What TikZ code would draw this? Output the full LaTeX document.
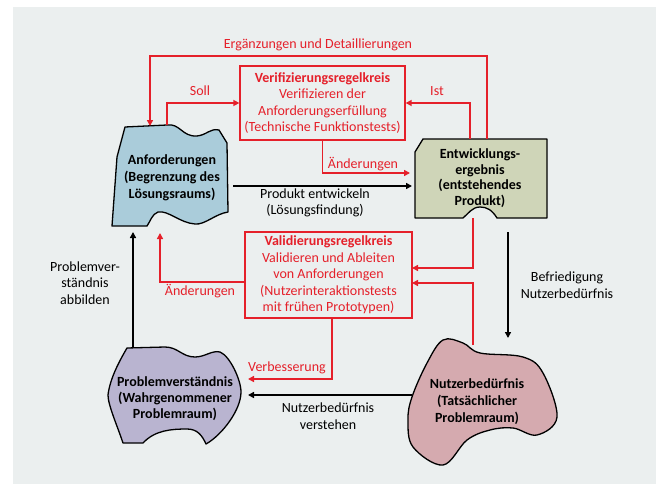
\documentclass[tikz,border=0pt]{standalone}
\usepackage{fontspec}
\setmainfont{Carlito}
\usetikzlibrary{arrows.meta}
\definecolor{bg}{HTML}{EBEFEF}
\definecolor{rd}{HTML}{E5202A}
\definecolor{anfc}{HTML}{AACCDA}
\definecolor{entc}{HTML}{CFD5B8}
\definecolor{proc}{HTML}{B9B4D0}
\definecolor{nutc}{HTML}{D5AAAF}
\tikzset{
  rline/.style={draw=rd, line width=1.8pt, -{Triangle[length=6pt,width=6pt]}},
  bline/.style={draw=black, line width=1.8pt, -{Triangle[length=6pt,width=6pt]}},
  shapeline/.style={draw=black, line width=1.3pt, line join=round},
  lbl/.style={font=\fontsize{14}{16.5}\selectfont, align=center, inner sep=0pt},
  rlbl/.style={lbl, text=rd},
  boxstyle/.style={draw=rd, line width=1.3pt, fill=bg, inner sep=0pt, text=rd, align=center, font=\fontsize{14}{16.5}\selectfont},
  stext/.style={align=center, inner sep=0pt, font=\fontsize{14}{17}\selectfont\bfseries},
}
\begin{document}
\begin{tikzpicture}[x=1pt,y=-1pt]
\useasboundingbox (0,0) rectangle (660,484);
\fill[bg] (13,7) rectangle (656,484);

% ---- shapes ----
\draw[shapeline, fill=anfc] (125,127) -- (167,125)
  .. controls (180,123) and (182,137) .. (197,136)
  .. controls (207,135) and (210,128) .. (219,130)
  -- (227,143) -- (228,212)
  .. controls (215,214) and (205,225) .. (195,224)
  .. controls (180,223) and (168,210) .. (158,212)
  .. controls (152,214) and (150,222) .. (147,226)
  -- (112,226) -- (117,157) -- cycle;

\draw[shapeline, fill=entc] (423,139) -- (547,139) -- (547,218) -- (497,218)
  .. controls (492,210) and (487,207) .. (480,207)
  .. controls (472,207) and (468,214) .. (463,218)
  -- (415,218) -- (415,152) -- cycle;

\draw[shapeline, fill=proc] (127,348) -- (165,347)
  .. controls (178,347) and (182,357) .. (195,357)
  .. controls (205,357) and (212,350) .. (220,352)
  .. controls (230,356) and (241,380) .. (241,392)
  .. controls (241,410) and (222,435) .. (206,444)
  .. controls (202,435) and (197,429) .. (187,429)
  .. controls (172,429) and (155,430) .. (143,443)
  -- (123,443)
  .. controls (117,425) and (108,405) .. (108,395)
  .. controls (110,378) and (120,360) .. (127,348) -- cycle;

\draw[shapeline, fill=nutc] plot[smooth cycle, tension=0.6] coordinates {
  (408,420) (412,397) (427,363) (443,340) (463,343) (480,353) (523,357)
  (543,373) (557,417) (537,435) (513,428) (490,430) (467,440) (443,465) (413,447)};

% ---- shape texts ----
\node[stext] (anf) at (172,178) {Anforderungen\\(Begrenzung des\\Lösungsraums)};
\node[stext, font=\fontsize{14}{15.5}\selectfont\bfseries] (ent) at (480,178) {Entwicklungs-\\ergebnis\\(entstehendes\\Produkt)};
\node[stext, font=\fontsize{14}{16}\selectfont\bfseries] (pro) at (175,399) {Problemverständnis\\(Wahrgenommener\\Problemraum)};
\node[stext] (nut) at (477,402) {Nutzerbedürfnis\\(Tatsächlicher\\Problemraum)};

% ---- boxes ----
\node[boxstyle, minimum width=165pt, minimum height=74pt] (verif) at (322.5,103)
  {\textbf{Verifizierungsregelkreis}\\Verifizieren der\\Anforderungserfüllung\\(Technische Funktionstests)};
\node[boxstyle, minimum width=167pt, minimum height=86pt] (valid) at (328.5,275)
  {\textbf{Validierungsregelkreis}\\Validieren und Ableiten\\von Anforderungen\\(Nutzerinteraktionstests\\mit frühen Prototypen)};

% ---- coordinates ----
\coordinate (anfTopL) at (150,126);
\coordinate (anfTopS) at (167,125);
\coordinate (anfRight) at (233,186);
\coordinate (entLeft) at (412,186);
\coordinate (entTopI) at (470,139);
\coordinate (entTopR) at (487,139);
\coordinate (topR) at (487,56);
\coordinate (entBot) at (473,218);
\coordinate (entBotB) at (508,232);
\coordinate (nutTop) at (473,345);
\coordinate (nutTopB) at (508,338);
\coordinate (nutLeft) at (412,395);
\coordinate (proRight) at (248,395);
\coordinate (proRightR) at (248,379);
\coordinate (proTop) at (133,347);
\coordinate (anfBotB) at (133,232);
\coordinate (anfBotR) at (160,233);
\coordinate (valR1) at (412,268);
\coordinate (valR2) at (412,283);
\coordinate (valL) at (245,282);
\coordinate (valB) at (332,318);
\coordinate (entAend) at (410,173);

% ---- connectors ----
\draw[rline] (entTopR) -- (topR) -| (anfTopL);
\draw[rline] (anfTopS) |- (verif.west);
\draw[rline] (entTopI) |- (verif.east);
\draw[rline] (verif.south) |- (entAend);
\draw[bline] (anfRight) -- (entLeft);
\draw[rline] (entBot) |- (valR1);
\draw[rline] (nutTop) |- (valR2);
\draw[bline] (entBotB) -- (nutTopB);
\draw[rline] (valL) -| (anfBotR);
\draw[bline] (proTop) -- (anfBotB);
\draw[rline] (valB) |- (proRightR);
\draw[bline] (nutLeft) -- (proRight);

% ---- labels ----
\node[rlbl] (lErg) at (318,45) {Ergänzungen und Detaillierungen};
\node[rlbl] (lSoll) at (200,91) {Soll};
\node[rlbl] (lIst) at (437,91) {Ist};
\node[rlbl] (lAend1) at (363,164) {Änderungen};
\node[lbl] (lProd) at (315,203) {Produkt entwickeln\\(Lösungsfindung)};
\node[rlbl] (lAend2) at (200,291) {Änderungen};
\node[lbl] (lProbl) at (85,283) {Problemver-\\ständnis\\abbilden};
\node[lbl] (lBefr) at (567,285) {Befriedigung\\Nutzerbedürfnis};
\node[rlbl] (lVerb) at (287,368) {Verbesserung};
\node[lbl] (lNutz) at (328,416) {Nutzerbedürfnis\\verstehen};
\end{tikzpicture}
\end{document}
